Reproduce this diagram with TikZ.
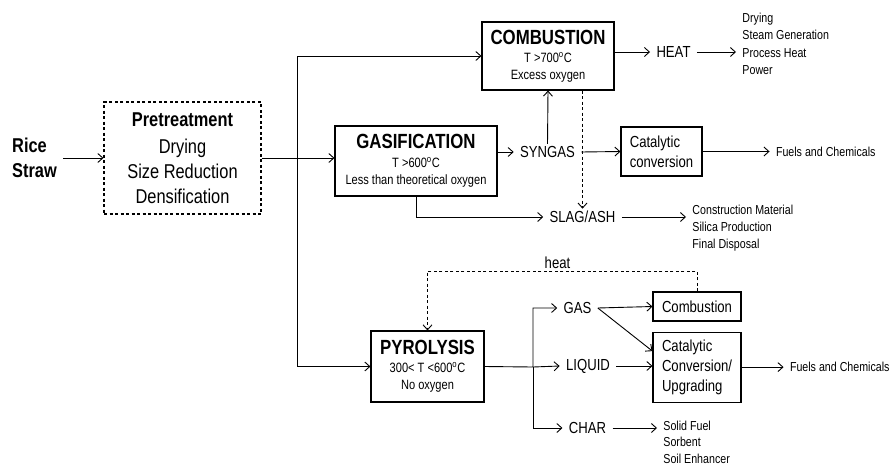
\documentclass[tikz,border=0pt]{standalone}
\usepackage{fontspec}
\setmainfont{Liberation Sans}[FakeStretch=0.82]
\usetikzlibrary{arrows.meta, positioning}
\newcommand{\ptitle}[1]{{\fontsize{20.5}{24}\selectfont\bfseries #1}}
\newcommand{\degC}{\textsuperscript{o}C}

\begin{document}
\begin{tikzpicture}[x=1pt, y=-1pt, >={Straight Barb[length=5pt,width=9pt]}, line width=0.9pt,
    proc/.style={draw, line width=1.1pt, align=center, inner sep=0pt, font=\fontsize{13.5}{17}\selectfont},
    cbox/.style={draw, line width=1.1pt, align=left, inner sep=0pt, font=\fontsize{16}{20}\selectfont},
    lbl/.style={inner xsep=6pt, inner ysep=2pt, font=\fontsize{16}{19}\selectfont},
    lst/.style={inner xsep=6pt, inner ysep=0pt, align=left, font=\fontsize{13}{17.3}\selectfont},
    dsh/.style={dash pattern=on 3pt off 2.5pt}]
    \useasboundingbox (0,0) rectangle (893,466);

    % Feed and pretreatment
    \node[align=left, inner xsep=6pt, font=\fontsize{20}{25}\selectfont\bfseries] (rice) at (34.5,158) {Rice\\Straw};
    \node[draw, dsh, line width=1.1pt, align=center, inner sep=0pt, minimum width=157, minimum height=112,
          font=\fontsize{20}{25}\selectfont] (pre) at (182.5,158)
          {\textbf{Pretreatment}\\[2pt]Drying\\Size Reduction\\Densification};
    \coordinate (tr) at (297,158);

    % Main conversion routes
    \node[proc, minimum width=132, minimum height=68] (comb) at (548,56)
          {\ptitle{COMBUSTION}\\[1pt]T >700\degC\\Excess oxygen};
    \node[proc, minimum width=162, minimum height=70] (gasif) at (416,161)
          {\ptitle{GASIFICATION}\\[2pt]T >600\degC\\Less than theoretical oxygen};
    \node[proc, minimum width=113, minimum height=71] (pyro) at (427.5,366.5)
          {\ptitle{PYROLYSIS}\\[1pt]300< T <600\degC\\No oxygen};

    % Combustion products
    \node[lbl] (heat) at (673.5,52) {HEAT};
    \node[lst, anchor=west] (uses) at (736,44) {Drying\\Steam Generation\\Process Heat\\Power};

    % Gasification products
    \node[lbl] (syngas) at (547.5,152) {SYNGAS};
    \node[cbox, minimum width=81, minimum height=49] (cat1) at (661.5,151.5) {Catalytic\\conversion};
    \node[lst, right=67pt of cat1] (fuels1) {Fuels and Chemicals};
    \node[lbl] (slag) at (582.5,217) {SLAG/ASH};
    \node[lst, anchor=west] (disp) at (686,228) {Construction Material\\Silica Production\\Final Disposal};

    % Pyrolysis products
    \coordinate (br) at (533,367);
    \node[lbl] (gasp) at (577.5,308) {GAS};
    \node[lbl] (liq) at (588,366) {LIQUID};
    \node[lbl] (charp) at (587.5,428) {CHAR};
    \node[cbox, align=center, minimum width=88, minimum height=29] (comb2) at (697,306.5) {Combustion};
    \node[cbox, minimum width=88, minimum height=70, below=10pt of comb2] (cat2) {Catalytic\\Conversion/\\Upgrading};
    \node[lst, right=42pt of cat2] (fuels2) {Fuels and Chemicals};
    \node[lst, anchor=west, font=\fontsize{13}{16.5}\selectfont] (prod) at (657,442) {Solid Fuel\\Sorbent\\Soil Enhancer};
    \node[lbl] (heatlbl) at (557.5,263) {heat};
    \coordinate (hl) at (697,271);

    % Arrows
    \draw[->] (rice.east |- pre.west) -- (pre.west);
    \draw[->] (pre.east) -- (pre.east -| gasif.west);
    \draw[->] (tr) |- (comb.west);
    \draw[->] (tr) |- (pyro.west);

    \draw[->] (heat.west -| comb.east) -- (heat.west);
    \draw[->] (heat.east) -- (heat.east -| uses.west);

    \draw[->] (syngas.west -| gasif.east) -- (syngas.west);
    \draw[->] (syngas.north) -- (comb.south);
    \draw[->] (syngas.east) -- (cat1.west);
    \draw[->] (cat1.east) -- (fuels1.west);
    \draw[dsh, ->] (slag.north |- comb.south) -- (slag.north);
    \draw[->] (gasif.south) |- (slag.west);
    \draw[->] (slag.east) -- (slag.east -| disp.west);

    \draw[->] (pyro.east) -- (br) |- (gasp.west);
    \draw[->] (br) |- (charp.west);
    \draw[->] (br) -- (liq.west);
    \draw[->] (gasp.east) -- (comb2.west);
    \draw[->] (gasp.east) -- ([yshift=16pt]cat2.west);
    \draw[->] (liq.east) -- (liq.east -| cat2.west);
    \draw[->] (cat2.east) -- (fuels2.west);
    \draw[->] (charp.east) -- (charp.east -| prod.west);
    \draw[dsh, ->] (comb2.north) -- (hl) -| (pyro.north);
\end{tikzpicture}
\end{document}
